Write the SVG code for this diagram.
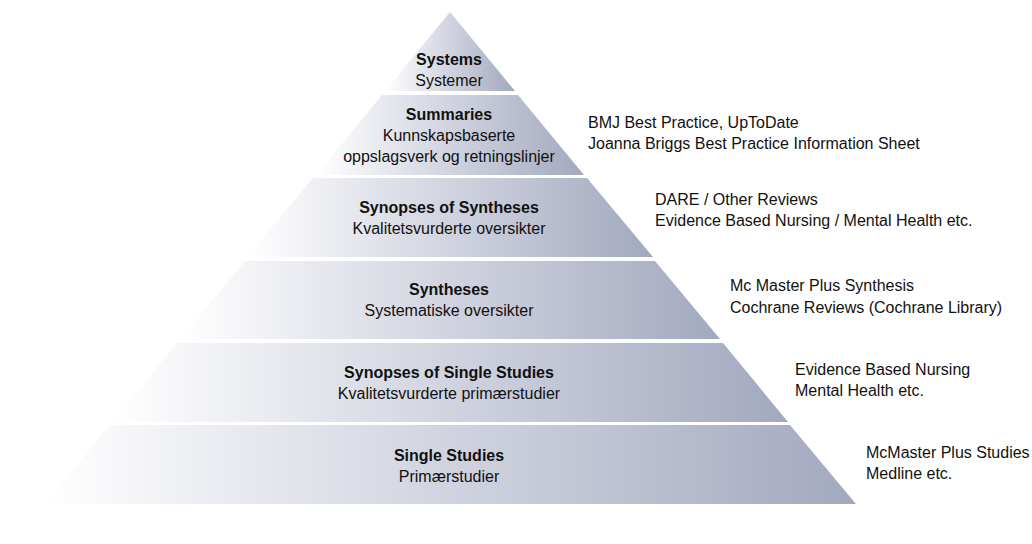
<svg xmlns="http://www.w3.org/2000/svg" width="1032" height="544" viewBox="0 0 1032 544">
<defs>
<linearGradient id="g" x1="0" y1="0" x2="1" y2="0">
<stop offset="0" stop-color="#ffffff"/>
<stop offset="1" stop-color="#a2a8bf"/>
</linearGradient>
<style>
.layer{fill:url(#g);}
text{font-family:"Liberation Sans",Arial,sans-serif;font-size:16px;fill:#111;}
.c{text-anchor:middle;}
.b{font-weight:bold;}
</style>
</defs>
<rect width="1032" height="544" fill="#fff"/>
<g id="systems">
<polygon class="layer" points="450,12 515,91 385,91"/>
<text class="c b" x="449" y="65">Systems</text>
<text class="c" x="449" y="86">Systemer</text>
</g>
<g id="summaries">
<polygon class="layer" points="382,95 518,95 584,175 316,175"/>
<text class="c b" x="449" y="120">Summaries</text>
<text class="c" x="449" y="141">Kunnskapsbaserte</text>
<text class="c" x="449" y="162">oppslagsverk og retningslinjer</text>
<text x="588" y="128">BMJ Best Practice, UpToDate</text>
<text x="588" y="149">Joanna Briggs Best Practice Information Sheet</text>
</g>
<g id="synopses-syntheses">
<polygon class="layer" points="313,178 587,178 653,257 247,257"/>
<text class="c b" x="449" y="213">Synopses of Syntheses</text>
<text class="c" x="449" y="234">Kvalitetsvurderte oversikter</text>
<text x="655" y="205">DARE / Other Reviews</text>
<text x="655" y="226">Evidence Based Nursing / Mental Health etc.</text>
</g>
<g id="syntheses">
<polygon class="layer" points="245,261 655,261 720,339 180,339"/>
<text class="c b" x="449" y="295">Syntheses</text>
<text class="c" x="449" y="316">Systematiske oversikter</text>
<text x="730" y="291">Mc Master Plus Synthesis</text>
<text x="730" y="313">Cochrane Reviews (Cochrane Library)</text>
</g>
<g id="synopses-single">
<polygon class="layer" points="177,343 723,343 788,422 112,422"/>
<text class="c b" x="449" y="378">Synopses of Single Studies</text>
<text class="c" x="449" y="399">Kvalitetsvurderte primærstudier</text>
<text x="795" y="375">Evidence Based Nursing</text>
<text x="795" y="396">Mental Health etc.</text>
</g>
<g id="single">
<polygon class="layer" points="110,425 790,425 856,504 44,504"/>
<text class="c b" x="449" y="461">Single Studies</text>
<text class="c" x="449" y="482">Primærstudier</text>
<text x="866" y="458">McMaster Plus Studies</text>
<text x="866" y="479">Medline etc.</text>
</g>
<g id="connectors"/>
</svg>
